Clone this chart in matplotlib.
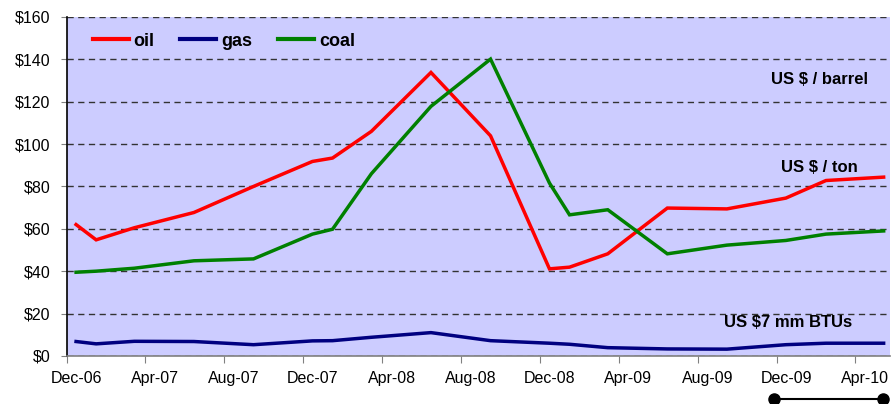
import matplotlib
matplotlib.use('Agg')
matplotlib.rcParams['font.family'] = ['Liberation Sans', 'DejaVu Sans']
import pandas as pd
import matplotlib.pyplot as plt
import matplotlib.dates as mdates
import matplotlib.transforms as mtransforms

# sample dates (mid-month) and prices
dates = pd.to_datetime([
    '2006-12-15', '2007-01-15', '2007-03-15', '2007-06-15', '2007-09-15',
    '2007-12-15', '2008-01-15', '2008-03-15', '2008-06-15', '2008-09-15',
    '2008-12-15', '2009-01-15', '2009-03-15', '2009-06-15', '2009-09-15',
    '2009-12-15', '2010-02-15', '2010-05-15'])

oil = [62.0, 54.8, 60.5, 67.7, 80.0, 91.8, 93.4, 106.0, 133.8, 103.9,
       41.1, 41.9, 48.2, 69.8, 69.4, 74.5, 82.8, 84.4]
gas = [6.8, 5.7, 6.9, 6.8, 5.3, 7.1, 7.2, 8.8, 11.0, 7.2,
       6.0, 5.5, 3.9, 3.3, 3.2, 5.3, 6.0, 6.0]
coal = [39.5, 40.0, 41.4, 44.9, 45.8, 57.5, 59.8, 86.0, 117.8, 140.1,
        81.6, 66.6, 69.0, 48.2, 52.3, 54.5, 57.5, 59.0]

series = [('oil', oil, '#FF0000'), ('gas', gas, '#000080'), ('coal', coal, '#008000')]

# unit notes: (text, date, value)
notes = [('US $ / barrel', '2010-02-05', 130.4),
         ('US $ / ton', '2010-02-05', 89.1),
         ('US $7 mm BTUs', '2009-12-19', 16.0)]

x_start, x_end = '2006-12-01', '2010-05-25'

fig = plt.figure(figsize=(8.91, 4.04), dpi=100)
ax = fig.add_axes([0.0752, 0.119, 0.9238, 0.839])
ax.set_facecolor('#CCCCFF')

for name, vals, col in series:
    ax.plot(dates, vals, color=col, linewidth=2.5, label=name,
            solid_joinstyle='miter', zorder=3)

ax.set_ylim(0, 160)
ax.set_yticks(range(0, 161, 20))
ax.yaxis.set_major_formatter(matplotlib.ticker.FuncFormatter(lambda v, p: f'${v:.0f}'))
ax.set_xlim(pd.Timestamp(x_start), pd.Timestamp(x_end))
ax.xaxis.set_major_locator(mdates.MonthLocator(bymonth=[4, 8, 12]))
ax.xaxis.set_major_formatter(mdates.DateFormatter('%b-%y'))

ax.grid(axis='y', color='#333333', linewidth=1.0, linestyle=(0, (4.5, 3.2)))
ax.grid(axis='x', visible=False)
ax.set_axisbelow(True)

for s in ['top', 'right']:
    ax.spines[s].set_visible(False)
ax.spines['left'].set_color('black')
ax.spines['left'].set_linewidth(1.2)
ax.spines['bottom'].set_color('#808080')
ax.spines['bottom'].set_linewidth(1.2)
ax.tick_params(axis='y', length=4, color='#808080', labelsize=11.5, pad=8)
ax.tick_params(axis='x', length=5, color='#808080', labelsize=11.5, pad=6)

# x labels sit a little to the right of their ticks
shift = mtransforms.ScaledTranslation(9.5 / 100, 0, fig.dpi_scale_trans)
for lbl in ax.get_xticklabels():
    lbl.set_transform(lbl.get_transform() + shift)

leg = ax.legend(loc='center left', bbox_to_anchor=(0.031, 0.929), ncol=3,
                frameon=False, borderpad=0, borderaxespad=0,
                handlelength=2.0, handletextpad=0.25, columnspacing=1.45,
                prop={'weight': 'bold', 'size': 13})
for h in leg.get_lines():
    h.set_linewidth(3)

for txt, d, v in notes:
    ax.text(pd.Timestamp(d), v, txt, ha='center', va='center',
            fontsize=12, fontweight='bold', zorder=4)

# bracket marker below the axis
trans = mtransforms.blended_transform_factory(ax.transData, ax.transAxes)
ax.plot([pd.Timestamp('2009-11-26'), pd.Timestamp('2010-05-14')], [-0.128, -0.128],
        color='black', linewidth=1.5, marker='o', markersize=8,
        transform=trans, clip_on=False)

fig.savefig('out.png', dpi=100)
